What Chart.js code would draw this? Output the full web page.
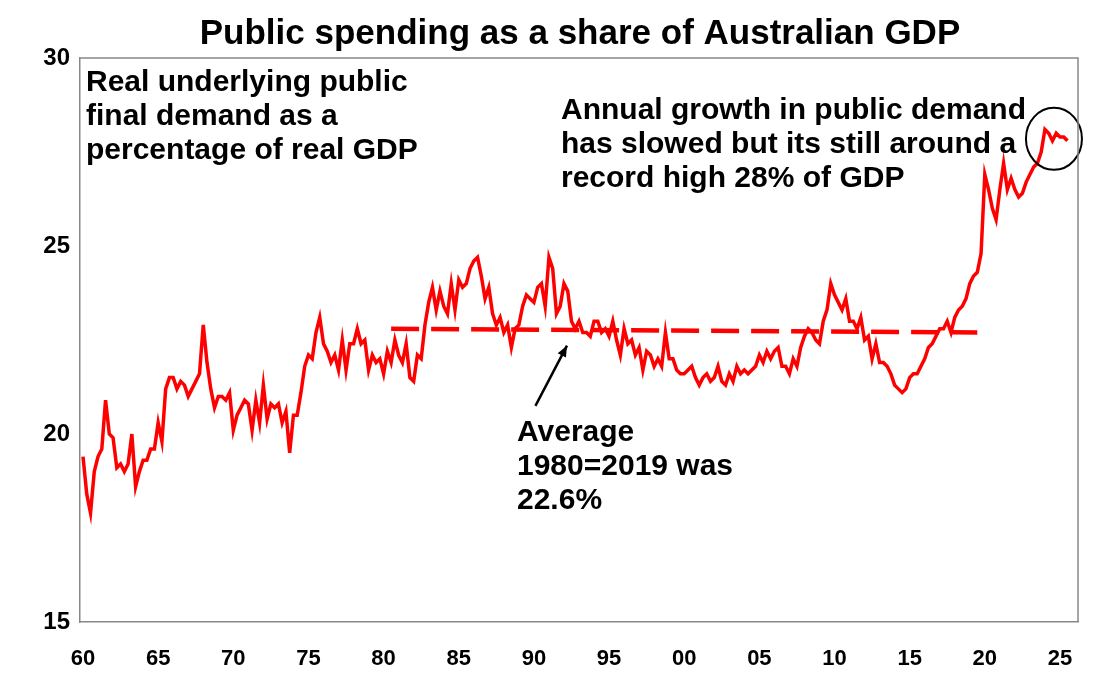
<!DOCTYPE html>
<html>
<head>
<meta charset="utf-8">
<script src="https://cdn.jsdelivr.net/npm/chart.js@4/dist/chart.umd.min.js"></script>
<style>
  body { margin: 0; background: #fff; }
  #wrap { width: 1097px; height: 680px; }
</style>
</head>
<body>
<div id="wrap"><canvas id="c"></canvas></div>
<script>
// quarterly values, starting 1960 Q1
const series = [
  19.4, 18.4, 17.9, 19.0,  19.4, 19.6, 20.9, 20.0,  19.9, 19.1, 19.2, 19.0,
  19.2, 20.0, 18.6, 19.0,  19.3, 19.3, 19.6, 19.6,  20.3, 19.8, 21.2, 21.5,
  21.5, 21.2, 21.4, 21.3,  21.0, 21.2, 21.4, 21.6,  22.9, 21.9, 21.2, 20.7,
  21.0, 21.0, 20.9, 21.1,  20.1, 20.5, 20.7, 20.9,  20.8, 20.1, 20.9, 20.3,
  21.3, 20.4, 20.8, 20.7,  20.8, 20.3, 20.6, 19.5,  20.5, 20.5, 21.1, 21.8,
  22.1, 22.0, 22.7, 23.1,  22.4, 22.2, 21.9, 22.1,  21.7, 22.5, 21.7, 22.4,
  22.4, 22.8, 22.4, 22.5,  21.7, 22.1, 21.9, 22.0,  21.6, 22.2, 21.9, 22.5,
  22.1, 21.9, 22.4, 21.5,  21.4, 22.1, 22.0, 22.9,  23.5, 23.9, 23.3, 23.8,
  23.4, 23.2, 24.0, 23.3,  24.1, 23.9, 24.0, 24.4,  24.6, 24.7, 24.2, 23.6,
  23.9, 23.2, 22.9, 23.1,  22.7, 22.9, 22.3, 22.8,  22.9, 23.4, 23.7, 23.6,
  23.5, 23.9, 24.0, 23.4,  24.7, 24.4, 23.2, 23.4,  24.0, 23.8, 23.0, 22.8,
  23.0, 22.7, 22.7, 22.6,  23.0, 23.0, 22.7, 22.8,  22.6, 23.0, 22.5, 22.1,
  22.8, 22.4, 22.5, 22.1,  22.3, 21.7, 22.2, 22.1,  21.8, 22.0, 21.8, 22.7,
  22.0, 22.0, 21.7, 21.6,  21.6, 21.7, 21.8, 21.5,  21.3, 21.5, 21.6, 21.4,
  21.5, 21.8, 21.4, 21.3,  21.6, 21.4, 21.8, 21.6,  21.7, 21.6, 21.7, 21.8,
  22.1, 21.9, 22.2, 22.0,  22.2, 22.3, 21.8, 21.8,  21.6, 22.0, 21.8, 22.3,
  22.6, 22.8, 22.7, 22.5,  22.4, 23.0, 23.3, 24.0,  23.7, 23.5, 23.3, 23.6,
  23.0, 23.0, 22.8, 23.1,  22.5, 22.6, 22.0, 22.4,  21.9, 21.9, 21.8, 21.6,
  21.3, 21.2, 21.1, 21.2,  21.5, 21.6, 21.6, 21.8,  22.0, 22.3, 22.4, 22.6,
  22.8, 22.8, 23.0, 22.7,  23.1, 23.3, 23.4, 23.6,  24.0, 24.2, 24.3, 24.8,
  26.9, 26.5, 26.0, 25.7,  26.5, 27.2, 26.5, 26.8,  26.5, 26.3, 26.4, 26.7,
  26.9, 27.1, 27.2, 27.5,  28.1, 28.0, 27.8, 28.0,  27.9, 27.9, 27.8
];
const points = series.map((v, i) => ({ x: 1960 + i / 4, y: v }));
const average = [{ x: 1980.5, y: 22.8 }, { x: 2019.5, y: 22.7 }];

const FONT = 'Liberation Sans, Arial, sans-serif';

// title, notes, arrow and circle
const annotations = {
  id: 'annotations',
  afterDraw(chart) {
    const { ctx, scales: { x, y } } = chart;
    ctx.save();
    ctx.fillStyle = '#000';
    ctx.textBaseline = 'alphabetic';
    ctx.textAlign = 'center';
    ctx.font = 'bold 35px ' + FONT;
    ctx.fillText('Public spending as a share of Australian GDP', 580, 44);

    ctx.textAlign = 'left';
    ctx.font = 'bold 30px ' + FONT;
    ['Real underlying public', 'final demand as a', 'percentage of real GDP']
      .forEach((t, i) => ctx.fillText(t, 86, 91 + i * 34));
    ['Annual growth in public demand', 'has slowed but its still around a', 'record high 28% of GDP']
      .forEach((t, i) => ctx.fillText(t, 561, 119 + i * 34));
    ['Average', '1980=2019 was', '22.6%']
      .forEach((t, i) => ctx.fillText(t, 517, 441 + i * 34));

    // arrow
    const x0 = x.getPixelForValue(1990.1), y0 = y.getPixelForValue(20.75);
    const x1 = x.getPixelForValue(1992.2), y1 = y.getPixelForValue(22.35);
    ctx.strokeStyle = '#000';
    ctx.lineWidth = 2.5;
    ctx.beginPath(); ctx.moveTo(x0, y0); ctx.lineTo(x1, y1); ctx.stroke();
    const a = Math.atan2(y1 - y0, x1 - x0);
    ctx.beginPath();
    ctx.moveTo(x1, y1);
    ctx.lineTo(x1 - 12 * Math.cos(a - 0.4), y1 - 12 * Math.sin(a - 0.4));
    ctx.lineTo(x1 - 12 * Math.cos(a + 0.4), y1 - 12 * Math.sin(a + 0.4));
    ctx.closePath(); ctx.fill();

    // circle
    ctx.lineWidth = 2;
    ctx.beginPath();
    ctx.ellipse(x.getPixelForValue(2024.6), y.getPixelForValue(27.85), 28, 31, 0, 0, Math.PI * 2);
    ctx.stroke();
    ctx.restore();
  }
};

new Chart(document.getElementById('c'), {
  type: 'line',
  data: {
    datasets: [
      { data: points, borderColor: '#ff0000', borderWidth: 3.5, pointRadius: 0, tension: 0 },
      { data: average, borderColor: '#ff0000', borderWidth: 4.5, borderDash: [28, 12], pointRadius: 0 }
    ]
  },
  options: {
    responsive: true,
    maintainAspectRatio: false,
    animation: false,
    layout: { padding: { top: 58, right: 19, left: 0, bottom: 0 } },
    plugins: { legend: { display: false }, tooltip: { enabled: false } },
    scales: {
      x: {
        type: 'linear', min: 1959.8, max: 2026.2,
        grid: { display: false, drawTicks: false },
        border: { color: '#888', width: 1.5 },
        afterFit: s => { s.height = 58; },
        afterBuildTicks: s => {
          s.ticks = [];
          for (let v = 1960; v <= 2025; v += 5) s.ticks.push({ value: v });
        },
        ticks: {
          padding: 24, maxRotation: 0, autoSkip: false,
          color: '#000', font: { family: FONT, size: 22, weight: 'bold' },
          callback: v => String(v % 100).padStart(2, '0')
        }
      },
      y: {
        min: 15, max: 30,
        grid: { display: false, drawTicks: false },
        border: { color: '#888', width: 1.5 },
        afterFit: s => { s.width = 80; },
        ticks: { stepSize: 5, padding: 10, color: '#000', font: { family: FONT, size: 24, weight: 'bold' } }
      }
    }
  },
  plugins: [annotations, {
    id: 'frame',
    afterDraw(chart) {
      const { ctx, chartArea: a } = chart;
      ctx.save();
      ctx.strokeStyle = '#888'; ctx.lineWidth = 1.5;
      ctx.beginPath(); ctx.moveTo(a.left, a.top); ctx.lineTo(a.right, a.top); ctx.lineTo(a.right, a.bottom); ctx.stroke();
      ctx.restore();
    }
  }]
});
</script>
</body>
</html>
